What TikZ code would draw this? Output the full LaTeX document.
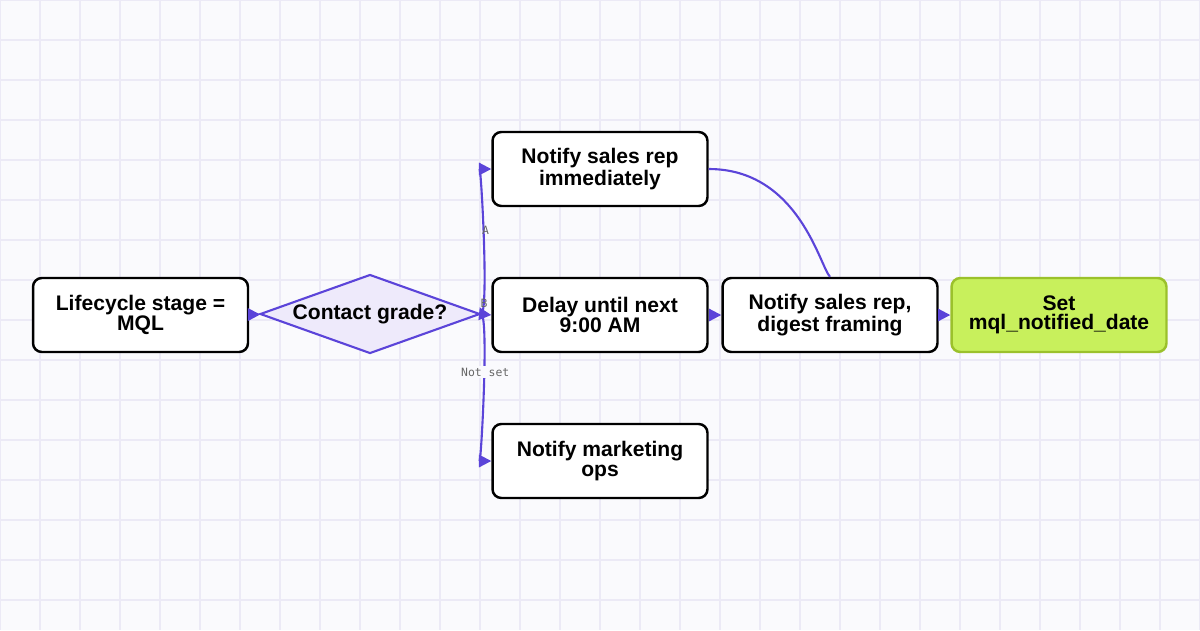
\documentclass[tikz,border=0pt]{standalone}
\usepackage{fontspec}
\setmainfont{Liberation Sans}
\setmonofont{DejaVu Sans Mono}
\usepackage{tikz}
\usetikzlibrary{arrows.meta,shapes.geometric,positioning}
\definecolor{edgeblue}{HTML}{5B44D9}
\definecolor{gridc}{HTML}{ECEAF6}
\definecolor{pagebg}{HTML}{FAFAFD}
\definecolor{decfill}{HTML}{EEEAFB}
\definecolor{setfill}{HTML}{C8F05C}
\definecolor{setline}{HTML}{9BC12B}
\definecolor{labgray}{HTML}{666666}
\tikzset{
  taskbox/.style={draw=black,line width=1.4pt,rounded corners=5pt,fill=white,
    minimum width=4.3cm,minimum height=1.48cm,align=center,
    font=\bfseries\fontsize{12}{11}\selectfont},
  flow/.style={draw=edgeblue,line width=1.2pt,-{Triangle[length=7pt,width=7pt]}},
  elab/.style={font=\ttfamily\fontsize{6.5}{7}\selectfont,text=labgray,inner sep=1pt}
}
\begin{document}
\begin{tikzpicture}[x=0.02cm,y=-0.02cm]
		\fill[pagebg] (0,0) rectangle (1200,630);
		\useasboundingbox (0,0) rectangle (1200,630);
		\foreach \gx in {0,40,...,1200} \draw[gridc,line width=0.6pt] (\gx,0) -- (\gx,630);
		\foreach \gy in {0,40,...,600} \draw[gridc,line width=0.6pt] (0,\gy) -- (1200,\gy);
		% nodes
		\node[taskbox] (stage) at (140.5,315) {Lifecycle stage =\\MQL};
		\node[diamond,draw=edgeblue,fill=decfill,line width=1.2pt,aspect=2.8,inner sep=0pt,
			minimum width=4.4cm,minimum height=1.58cm,font=\bfseries\fontsize{12}{11}\selectfont] (grade) at (370,314) {Contact grade?};
		\node[taskbox] (now) at (600,169) {Notify sales rep\\immediately};
		\node[taskbox] (delay) at (600,315) {Delay until next\\9:00 AM};
		\node[taskbox] (digest) at (830,315) {Notify sales rep,\\digest framing};
		\node[taskbox,fill=setfill,draw=setline] (setdate) at (1059,315) {Set\\mql\_notified\_date};
		\node[taskbox] (ops) at (600,461) {Notify marketing\\ops};
		% connectors
		\draw[flow] (stage) -- (grade);
		\draw[flow] (grade.east) .. controls +(8,0) and +(-10,0) .. node[elab,pos=0.55] {A} (now.west);
		\draw[flow] (grade.east) -- node[elab,pos=0.3,above=2pt] {B} (delay.west);
		\draw[flow] (grade.east) .. controls +(8,0) and +(-10,0) .. node[elab,pos=0.43,fill=pagebg] {Not set} (ops.west);
		\draw[flow,-] (now.east) .. controls +(90,0) and +(-10,-10) .. (digest.north);
		\draw[flow] (delay) -- (digest);
		\draw[flow] (digest) -- (setdate);
	\end{tikzpicture}
\end{document}
